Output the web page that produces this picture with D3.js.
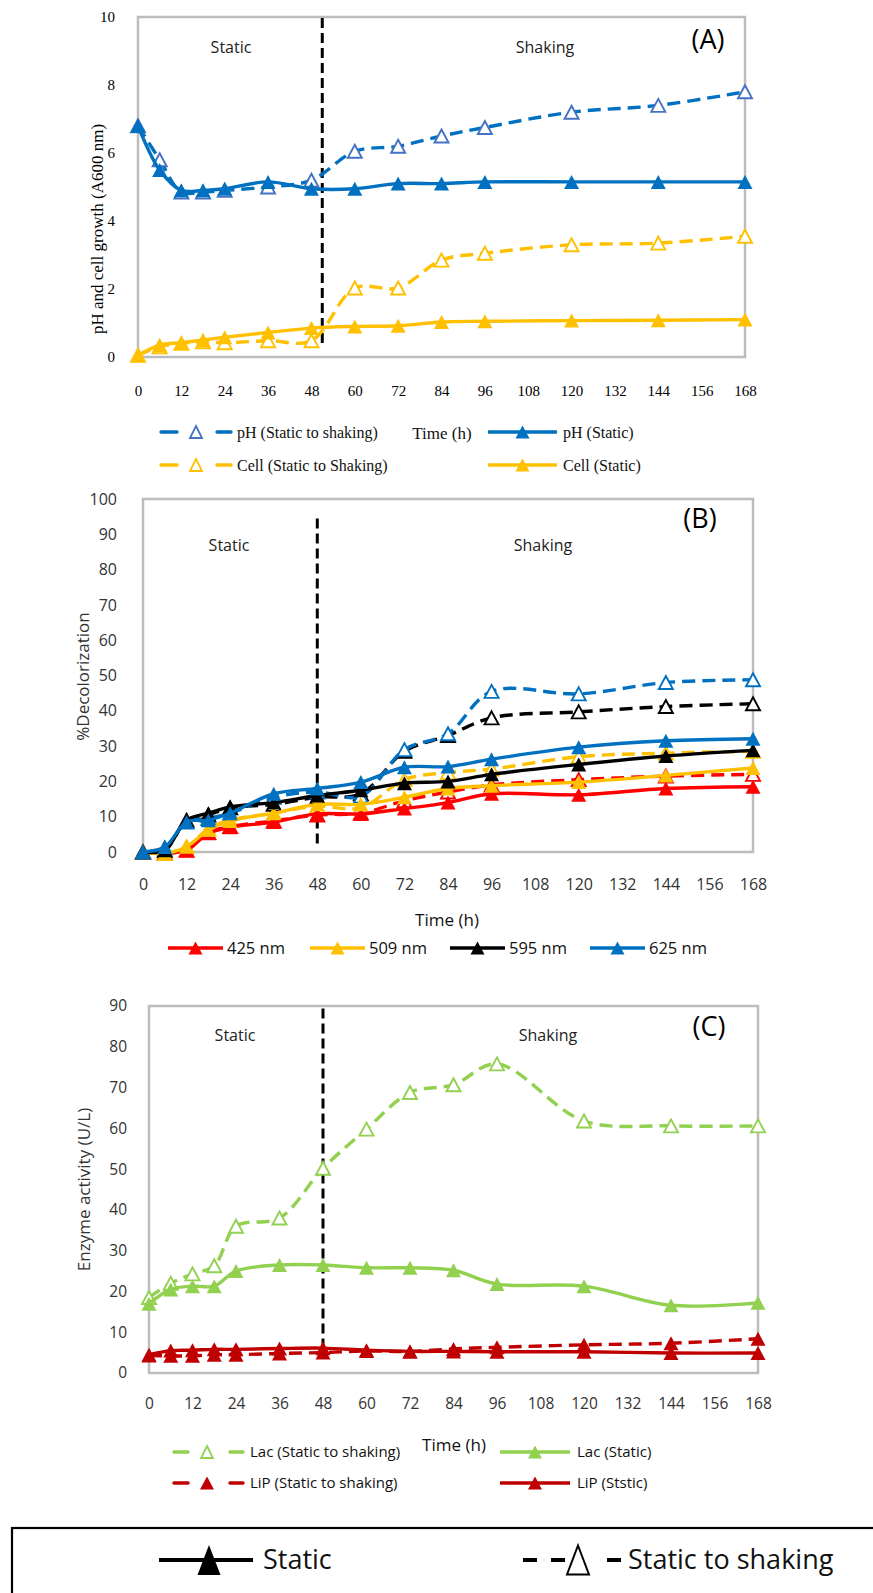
<!DOCTYPE html>
<html>
<head>
<meta charset="utf-8">
<script src="https://cdn.jsdelivr.net/npm/d3@7"></script>
<style>
  html, body { margin: 0; padding: 0; background: #fff; }
  svg { display: block; }
</style>
</head>
<body>
<svg id="fig" width="873" height="1593"></svg>
<script>
// ---- sampling times (h) and axis ticks ----
const hours = [0, 6, 12, 18, 24, 36, 48, 60, 72, 84, 96, 120, 144, 168];
const hourTicks = [0, 12, 24, 36, 48, 60, 72, 84, 96, 108, 120, 132, 144, 156, 168];

// ---- (A) pH and cell growth ----
const phShaking   = [6.8, 5.8, 4.85, 4.85, 4.9, 5.0, 5.2, 6.05, 6.2, 6.5, 6.75, 7.2, 7.4, 7.8];
const phStatic    = [6.8, 5.5, 4.9, 4.9, 4.95, 5.15, 4.95, 4.95, 5.1, 5.1, 5.15, 5.15, 5.15, 5.15];
const cellShaking = [0.05, 0.3, 0.4, 0.45, 0.42, 0.48, 0.48, 2.03, 2.03, 2.85, 3.05, 3.3, 3.35, 3.55];
const cellStatic  = [0.05, 0.35, 0.42, 0.5, 0.58, 0.72, 0.85, 0.9, 0.92, 1.03, 1.05, 1.07, 1.08, 1.1];
const ticksA = [0, 2, 4, 6, 8, 10];
const switchHourA = 51;

// ---- (B) % decolorization ----
const dec425Static  = [0, -0.3, 0.5, 5.3, 7, 8.5, 10.8, 10.8, 12.3, 14, 16.5, 16.2, 18, 18.5];
const dec509Static  = [0, -0.4, 1.5, 6.2, 8.8, 11, 13.5, 13.5, 15.5, 18, 18.8, 19.8, 21.7, 23.8];
const dec595Static  = [0, 0.5, 9, 11, 12.8, 14, 16, 17.5, 19.5, 20, 22, 24.8, 27.2, 28.8];
const dec625Static  = [0, 1.4, 8.5, 9, 11, 16.5, 18, 19.8, 24, 24.2, 26.3, 29.7, 31.5, 32.1];
const dec425Shaking = [0, -0.3, 0.5, 5.5, 7.2, 8.8, 10.5, 11, 14.5, 17, 19, 20.5, 21.5, 22];
const dec509Shaking = [0, -0.4, 1.5, 6.5, 9, 11, 13, 12.5, 20.5, 22.5, 23.5, 27, 28, 28.5];
const dec595Shaking = [0, 0.5, 9, 10.5, 12.5, 13.5, 15.5, 16.5, 28.5, 33, 38, 39.7, 41.2, 42];
const dec625Shaking = [0, 1.2, 8.5, 9.5, 11, 15.5, 17, 15.8, 29, 33.5, 45.5, 44.8, 48, 48.8];
const ticksB = [0, 10, 20, 30, 40, 50, 60, 70, 80, 90, 100];
const wavelengths = ["425 nm", "509 nm", "595 nm", "625 nm"];
const switchHourB = 48;

// ---- (C) enzyme activity ----
const lacShaking = [18.5, 22, 24.3, 26.3, 36, 38, 50.2, 59.8, 68.8, 70.7, 75.8, 61.8, 60.6, 60.6];
const lacStatic  = [17, 20.5, 21.3, 21.3, 25, 26.5, 26.5, 25.8, 25.8, 25.2, 21.8, 21.3, 16.6, 17.2];
const lipShaking = [4.3, 4.2, 4.2, 4.5, 4.5, 4.8, 5.0, 5.4, 5.3, 5.9, 6.3, 6.9, 7.3, 8.4];
const lipStatic  = [4.5, 5.5, 5.6, 5.8, 5.8, 6.0, 6.1, 5.6, 5.3, 5.3, 5.2, 5.2, 4.9, 4.9];
const ticksC = [0, 10, 20, 30, 40, 50, 60, 70, 80, 90];
const switchHourC = 48;

// ---- styling ----
const SANS = "'Open Sans', 'Noto Sans', sans-serif";
const SERIF = "'Liberation Serif', 'DejaVu Serif', serif";
const FRAME = "#BDBDBD";
const DASH = "13,7";
const LW = 3.4;

const svg = d3.select("#fig");

// triangle path centred on its bounding box
function tri(cx, cy, w, h) {
  return `M${cx},${cy - h / 2}L${cx + w / 2},${cy + h / 2}L${cx - w / 2},${cy + h / 2}Z`;
}

function drawSeries(g, x, y, values, s) {
  const pts = hours.map((h, i) => [h, values[i]]);
  const line = d3.line()
    .x(d => x(d[0])).y(d => y(d[1]))
    .curve(d3.curveCatmullRom.alpha(0.5));
  g.append("path")
    .attr("d", line(pts))
    .attr("fill", "none")
    .attr("stroke", s.color)
    .attr("stroke-width", LW)
    .attr("stroke-linejoin", "round")
    .attr("stroke-dasharray", s.dashed ? DASH : null);
  g.selectAll(null).data(pts).enter().append("path")
    .attr("d", d => tri(x(d[0]), y(d[1]), s.open ? 14 : 15, s.open ? 13 : 14))
    .attr("fill", s.open ? "#fff" : (s.markerColor || s.color))
    .attr("stroke", s.open ? (s.markerColor || s.color) : "none")
    .attr("stroke-width", s.open ? 1.9 : 0);
}

function drawPanel(p) {
  const g = svg.append("g");
  const x = d3.scaleLinear().domain([0, 168]).range([p.left, p.right]);
  const y = d3.scaleLinear().domain([0, p.ymax]).range([p.bottom, p.top]);

  // plot frame
  g.append("rect")
    .attr("x", p.left).attr("y", p.top)
    .attr("width", p.right - p.left).attr("height", p.bottom - p.top)
    .attr("fill", "none").attr("stroke", FRAME).attr("stroke-width", 2.5);

  // axes (labels only)
  const ya = g.append("g").attr("transform", `translate(${p.left},0)`)
    .call(d3.axisLeft(y).tickValues(p.yTicks).tickSize(0).tickPadding(p.yPad));
  const xa = g.append("g").attr("transform", `translate(0,${p.bottom})`)
    .call(d3.axisBottom(x).tickValues(hourTicks).tickSize(0).tickPadding(p.xPad));
  [ya, xa].forEach(a => {
    a.select(".domain").remove();
    a.selectAll("text").attr("font-family", p.tickFont).attr("font-size", p.tickSize).attr("fill", p.tickColor);
  });

  // y-axis title
  g.append("text")
    .attr("transform", `translate(${p.yTitleX},${(p.top + p.bottom) / 2 + p.yTitleShift}) rotate(-90)`)
    .attr("text-anchor", "middle").attr("dy", "0.35em")
    .attr("font-family", p.titleFont).attr("font-size", p.titleSize).attr("fill", p.tickColor)
    .text(p.yTitle);

  // static / shaking divider
  g.append("line")
    .attr("x1", x(p.switchHour)).attr("x2", x(p.switchHour))
    .attr("y1", y(p.divTop)).attr("y2", y(p.divBottom))
    .attr("stroke", "#000").attr("stroke-width", 3).attr("stroke-dasharray", "10,5");

  // phase labels and panel letter
  const label = (tx, ty, text, size) => g.append("text")
    .attr("x", tx).attr("y", ty).attr("dy", "0.35em").attr("text-anchor", "middle")
    .attr("font-family", SANS).attr("font-size", size).attr("fill", "#222").text(text);
  label(p.staticX, p.phaseY, "Static", 16);
  label(p.shakingX, p.phaseY, "Shaking", 16);
  label(p.letterX, p.letterY, p.letter, 27).attr("fill", "#000");

  p.series.forEach(s => drawSeries(g, x, y, s.values, s));
  return g;
}

// legend sample: solid line with filled triangle, or dashed pieces with a triangle
function legendSolid(x0, x1, cy, color, w = LW) {
  svg.append("line").attr("x1", x0).attr("x2", x1).attr("y1", cy).attr("y2", cy)
    .attr("stroke", color).attr("stroke-width", w);
  svg.append("path").attr("d", tri((x0 + x1) / 2, cy, 14, 13)).attr("fill", color);
}
function legendDashed(segs, tx, cy, color, markerColor, open) {
  segs.forEach(([a, b]) => svg.append("line").attr("x1", a).attr("x2", b).attr("y1", cy).attr("y2", cy)
    .attr("stroke", color).attr("stroke-width", LW).attr("stroke-linecap", "round"));
  svg.append("path").attr("d", tri(tx, cy, open ? 12 : 14, open ? 12 : 13))
    .attr("fill", open ? "#fff" : markerColor)
    .attr("stroke", open ? markerColor : "none").attr("stroke-width", open ? 1.8 : 0);
}
function legendText(x0, cy, text, font, size, anchor = "start") {
  svg.append("text").attr("x", x0).attr("y", cy).attr("dy", "0.35em")
    .attr("text-anchor", anchor).attr("font-family", font).attr("font-size", size)
    .attr("fill", "#111").text(text);
}

// ================= (A) =================
drawPanel({
  left: 138, right: 745, top: 17, bottom: 357, ymax: 10, yTicks: ticksA,
  yPad: 23, xPad: 28.5, tickFont: SERIF, tickSize: 15, tickColor: "#000",
  titleFont: SERIF, titleSize: 17, yTitle: "pH and cell growth (A600 nm)", yTitleX: 97, yTitleShift: 42,
  switchHour: switchHourA, divTop: 9.97, divBottom: 0.3,
  staticX: 231, shakingX: 545, phaseY: 47, letter: "(A)", letterX: 708, letterY: 40,
  series: [
    { values: phShaking, color: "#0070C0", markerColor: "#4472C4", dashed: true, open: true },
    { values: cellShaking, color: "#FFC000", dashed: true, open: true },
    { values: phStatic, color: "#0070C0" },
    { values: cellStatic, color: "#FFC000" }
  ]
});
legendDashed([[161, 177], [217, 231]], 196, 432, "#0070C0", "#4472C4", true);
legendText(237, 432, "pH (Static to shaking)", SERIF, 16);
legendText(442, 433, "Time (h)", SERIF, 17, "middle");
legendSolid(488, 557, 432, "#0070C0");
legendText(563, 432, "pH (Static)", SERIF, 16);
legendDashed([[161, 177], [217, 231]], 196, 465, "#FFC000", "#FFC000", true);
legendText(237, 465, "Cell (Static to Shaking)", SERIF, 16);
legendSolid(488, 557, 465, "#FFC000");
legendText(563, 465, "Cell (Static)", SERIF, 16);

// ================= (B) =================
const colorsB = ["#FF0000", "#FFC000", "#000000", "#0070C0"];
const staticB = [dec425Static, dec509Static, dec595Static, dec625Static];
const shakingB = [dec425Shaking, dec509Shaking, dec595Shaking, dec625Shaking];
drawPanel({
  left: 143, right: 753, top: 499, bottom: 852, ymax: 100, yTicks: ticksB,
  yPad: 26, xPad: 26.5, tickFont: SANS, tickSize: 16, tickColor: "#333",
  titleFont: SANS, titleSize: 17, yTitle: "%Decolorization", yTitleX: 83, yTitleShift: 1,
  switchHour: switchHourB, divTop: 94.5, divBottom: 2,
  staticX: 229, shakingX: 543, phaseY: 545, letter: "(B)", letterX: 700, letterY: 519,
  series: [
    ...shakingB.map((v, i) => ({ values: v, color: colorsB[i], dashed: true, open: true })),
    ...staticB.map((v, i) => ({ values: v, color: colorsB[i] }))
  ]
});
legendText(447, 920, "Time (h)", SANS, 17, "middle");
[168, 310, 450, 590].forEach((lx, i) => {
  legendSolid(lx, lx + 55, 948, colorsB[i]);
  legendText(lx + 59, 948, wavelengths[i], SANS, 16.5);
});

// ================= (C) =================
drawPanel({
  left: 149, right: 758, top: 1006, bottom: 1373, ymax: 90, yTicks: ticksC,
  yPad: 22, xPad: 25, tickFont: SANS, tickSize: 15.5, tickColor: "#333",
  titleFont: SANS, titleSize: 17, yTitle: "Enzyme activity (U/L)", yTitleX: 84, yTitleShift: 0,
  switchHour: switchHourC, divTop: 89.4, divBottom: 5,
  staticX: 235, shakingX: 548, phaseY: 1035, letter: "(C)", letterX: 709, letterY: 1027,
  series: [
    { values: lacShaking, color: "#92D050", dashed: true, open: true },
    { values: lacStatic, color: "#92D050" },
    { values: lipShaking, color: "#C00000", dashed: true },
    { values: lipStatic, color: "#C00000" }
  ]
});
legendDashed([[174, 188], [230, 243]], 207, 1452, "#92D050", "#92D050", true);
legendText(250, 1452, "Lac (Static to shaking)", SANS, 15);
legendText(454, 1445, "Time (h)", SANS, 17, "middle");
legendSolid(500, 570, 1452, "#92D050");
legendText(577, 1452, "Lac (Static)", SANS, 15);
legendDashed([[174, 188], [230, 243]], 207, 1483, "#C00000", "#C00000", false);
legendText(250, 1483, "LiP (Static to shaking)", SANS, 15);
legendSolid(500, 570, 1483, "#C00000");
legendText(577, 1483, "LiP (Ststic)", SANS, 15);

// ================= shared key =================
svg.append("rect").attr("x", 12).attr("y", 1528).attr("width", 900).attr("height", 120)
  .attr("fill", "none").attr("stroke", "#000").attr("stroke-width", 2.2);
svg.append("line").attr("x1", 159).attr("x2", 253).attr("y1", 1560).attr("y2", 1560)
  .attr("stroke", "#000").attr("stroke-width", 4);
svg.append("path").attr("d", tri(209, 1560, 23, 30)).attr("fill", "#000");
legendText(263, 1560, "Static", SANS, 27);
[[523, 537], [551, 565], [607, 621]].forEach(([a, b]) =>
  svg.append("line").attr("x1", a).attr("x2", b).attr("y1", 1560).attr("y2", 1560)
    .attr("stroke", "#000").attr("stroke-width", 4));
svg.append("path").attr("d", tri(578, 1560, 22, 29)).attr("fill", "#fff")
  .attr("stroke", "#000").attr("stroke-width", 2);
legendText(628, 1560, "Static to shaking", SANS, 27);
</script>
</body>
</html>
